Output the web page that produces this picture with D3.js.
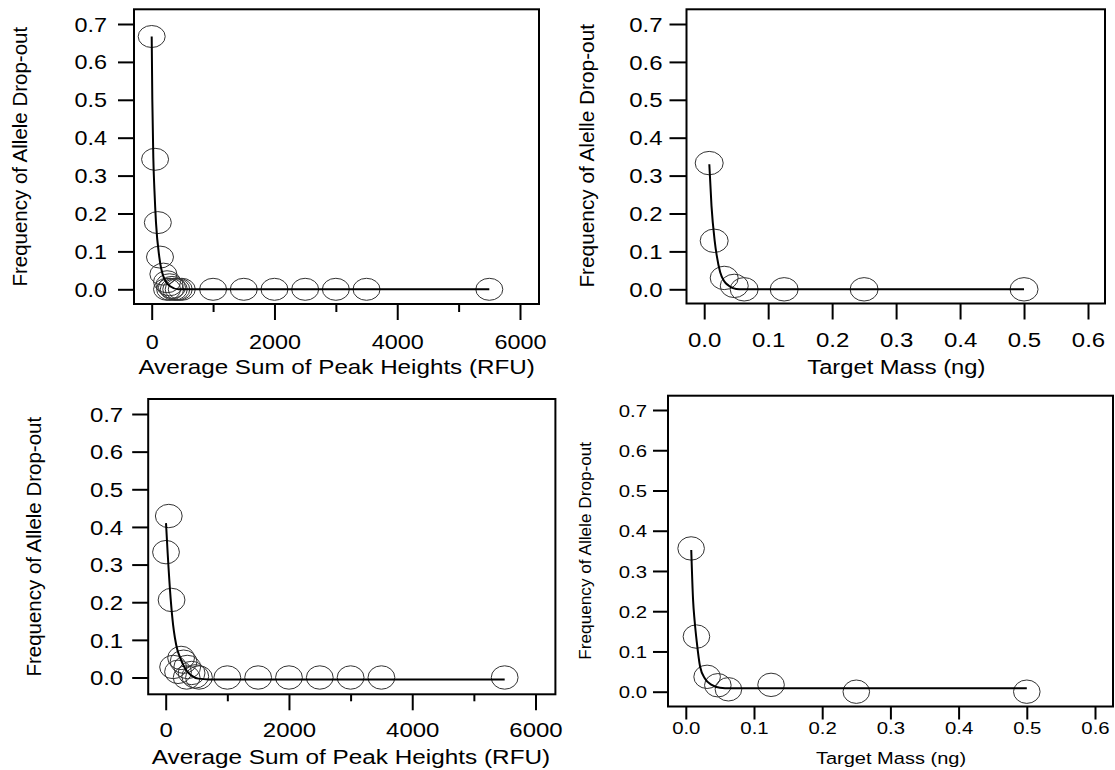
<!DOCTYPE html>
<html>
<head>
<meta charset="utf-8">
<script src="https://cdn.jsdelivr.net/npm/d3@7"></script>
<style>
body { margin: 0; background: #fff; }
svg { display: block; }
</style>
</head>
<body>
<div id="chart"></div>
<script>
// tick values
const freqTicks = [0, 0.1, 0.2, 0.3, 0.4, 0.5, 0.6, 0.7];
const rfuTicks = [0, 2000, 4000, 6000];
const rfuMinorTicks = [1000, 3000, 5000];
const massTicks = [0, 0.1, 0.2, 0.3, 0.4, 0.5, 0.6];

// top left: drop-out vs average sum of peak heights
const rfuA = [0, 55, 100, 135, 190, 250, 290, 330, 250, 300, 360, 400, 440, 490, 1000, 1500, 2000, 2500, 3000, 3500, 5500];
const dropA = [0.667, 0.343, 0.176, 0.085, 0.04, 0.02, 0.012, 0.005, 0, 0, 0, 0, 0, 0, 0, 0, 0, 0, 0, 0, 0];
const fitRfuA = [0, 10, 27, 45, 70, 124, 190, 300, 435, 5500];
const fitDropA = [0.667, 0.5, 0.343, 0.26, 0.176, 0.085, 0.034, 0.008, 0, 0];

// top right: drop-out vs target mass
const massB = [0.0078, 0.0156, 0.03125, 0.047, 0.0625, 0.125, 0.25, 0.5];
const dropB = [0.333, 0.128, 0.03, 0.009, 0, 0, 0, 0];
const fitMassB = [0.008, 0.0114, 0.0164, 0.0195, 0.025, 0.031, 0.038, 0.045, 0.055, 0.5];
const fitDropB = [0.33, 0.22, 0.128, 0.09, 0.045, 0.022, 0.01, 0.003, 0, 0];

// bottom left
const rfuC = [5, 50, 95, 120, 200, 250, 290, 350, 420, 340, 480, 540, 1000, 1500, 2000, 2500, 3000, 3500, 5500];
const dropC = [0.333, 0.429, 0.206, 0.028, 0.015, 0.052, 0.042, 0.028, 0.012, 0, 0.003, 0, 0, 0, 0, 0, 0, 0, 0];
const fitRfuC = [5, 32, 80, 120, 150, 190, 230, 280, 340, 420, 530, 700, 5500];
const fitDropC = [0.41, 0.33, 0.21, 0.14, 0.105, 0.073, 0.055, 0.035, 0.018, 0.005, -0.003, -0.005, -0.005];

// bottom right
const massD = [0.0078, 0.0156, 0.03125, 0.047, 0.0625, 0.125, 0.25, 0.5];
const dropD = [0.356, 0.137, 0.037, 0.016, 0.006, 0.017, 0, 0];
const fitMassD = [0.008, 0.0106, 0.013, 0.016, 0.021, 0.028, 0.038, 0.05, 0.065, 0.5];
const fitDropD = [0.352, 0.23, 0.175, 0.125, 0.062, 0.033, 0.017, 0.01, 0.0085, 0.0085];

const FONT = "'Liberation Sans', Arial, sans-serif";
const fmtRfu = d3.format("d");
const fmtOne = d3.format(".1f");

const svg = d3.select("#chart").append("svg")
	.attr("width", 1115)
	.attr("height", 770)
	.attr("font-family", FONT);

// layout of each panel, in page pixels
const panels = [
	{
		xs: rfuA, ys: dropA, fx: fitRfuA, fy: fitDropA,
		xDomain: [0, 6000], xRange: [151.7, 520], yRange: [289.3, 24],
		box: [134, 539, 9.3, 304], xTicks: rfuTicks, minor: rfuMinorTicks, fmt: fmtRfu,
		yTick: 16, yGap: 11, xTick: 16, minorTick: 8, xLabelY: 342,
		tickFont: 20, titleFont: 20.7, yTitleFont: 20.5, sx: 1.17,
		xTitle: "Average Sum of Peak Heights (RFU)", xTitlePos: [336.6, 367],
		yTitle: "Frequency of Allele Drop-out", yTitlePos: [19.6, 156.7],
		rx: 13.5, ry: 11
	},
	{
		xs: massB, ys: dropB, fx: fitMassB, fy: fitDropB,
		xDomain: [0, 0.6], xRange: [704.2, 1088], yRange: [289.3, 24],
		box: [686.5, 1105, 9.3, 303.5], xTicks: massTicks, minor: [], fmt: fmtOne,
		yTick: 17, yGap: 7, xTick: 16, minorTick: 0, xLabelY: 340,
		tickFont: 20.5, titleFont: 20.3, yTitleFont: 20.8, sx: 1.17,
		xTitle: "Target Mass (ng)", xTitlePos: [896.3, 367],
		yTitle: "Frequency of Alelle Drop-out", yTitlePos: [586.5, 155.8],
		rx: 14, ry: 11.7
	},
	{
		xs: rfuC, ys: dropC, fx: fitRfuC, fy: fitDropC,
		xDomain: [0, 6000], xRange: [165.7, 535.5], yRange: [677.5, 414],
		box: [148.2, 555.4, 399, 694.3], xTicks: rfuTicks, minor: rfuMinorTicks, fmt: fmtRfu,
		yTick: 16, yGap: 9, xTick: 16, minorTick: 7, xLabelY: 730,
		tickFont: 20.5, titleFont: 20.8, yTitleFont: 20.5, sx: 1.17,
		xTitle: "Average Sum of Peak Heights (RFU)", xTitlePos: [351, 756.7],
		yTitle: "Frequency of Allele Drop-out", yTitlePos: [34, 546.7],
		rx: 13.4, ry: 11.7
	},
	{
		xs: massD, ys: dropD, fx: fitMassD, fy: fitDropD,
		xDomain: [0, 0.6], xRange: [685.8, 1095], yRange: [691.7, 410],
		box: [668, 1113, 395.7, 706.5], xTicks: massTicks, minor: [], fmt: fmtOne,
		yTick: 15, yGap: 6, xTick: 13, minorTick: 0, xLabelY: 728.3,
		tickFont: 17.4, titleFont: 17.1, yTitleFont: 17.2, sx: 1.17,
		xTitle: "Target Mass (ng)", xTitlePos: [891, 758.3],
		yTitle: "Frequency of Allele Drop-out", yTitlePos: [584.8, 550.8],
		rx: 13.3, ry: 11.7
	}
];

panels.forEach(function (p) {
	let g = svg.append("g");

	// scales
	let x = d3.scaleLinear().domain(p.xDomain).range(p.xRange);
	let y = d3.scaleLinear().domain([0, 0.7]).range(p.yRange);

	// y axis (ticks out of the box, labels left)
	let gy = g.append("g")
		.attr("transform", "translate(" + p.box[0] + ",0)")
		.call(d3.axisLeft(y).tickValues(freqTicks).tickFormat(fmtOne).tickSize(p.yTick).tickSizeOuter(0))
		.attr("font-family", FONT);
	gy.select(".domain").remove();
	gy.selectAll("line").attr("stroke", "#000").attr("stroke-width", 2);
	gy.selectAll("text")
		.attr("fill", "#000")
		.attr("font-size", p.tickFont)
		.attr("x", -(p.yTick + p.yGap) / p.sx)
		.attr("dy", "0.35em")
		.attr("transform", "scale(" + p.sx + ",1)");

	// x axis, labelled ticks
	let gx = g.append("g")
		.attr("transform", "translate(0," + p.box[3] + ")")
		.call(d3.axisBottom(x).tickValues(p.xTicks).tickFormat(p.fmt).tickSize(p.xTick).tickSizeOuter(0))
		.attr("font-family", FONT);
	gx.select(".domain").remove();
	gx.selectAll("line").attr("stroke", "#000").attr("stroke-width", 2);
	gx.selectAll("text")
		.attr("fill", "#000")
		.attr("font-size", p.tickFont)
		.attr("y", p.xLabelY - p.box[3])
		.attr("dy", "0.35em")
		.attr("transform", "scale(" + p.sx + ",1)");

	// x axis, unlabelled short ticks
	if (p.minor.length) {
		let gm = g.append("g")
			.attr("transform", "translate(0," + p.box[3] + ")")
			.call(d3.axisBottom(x).tickValues(p.minor).tickFormat("").tickSize(p.minorTick).tickSizeOuter(0));
		gm.select(".domain").remove();
		gm.selectAll("line").attr("stroke", "#000").attr("stroke-width", 2);
	}

	// plot box
	g.append("rect")
		.attr("x", p.box[0])
		.attr("y", p.box[2])
		.attr("width", p.box[1] - p.box[0])
		.attr("height", p.box[3] - p.box[2])
		.attr("fill", "none")
		.attr("stroke", "#000")
		.attr("stroke-width", 2);

	// observed points (open symbols)
	g.selectAll("ellipse")
		.data(p.xs.map((v, i) => ({x: v, y: p.ys[i]})))
		.enter().append("ellipse")
		.attr("cx", d => x(d.x))
		.attr("cy", d => y(d.y))
		.attr("rx", p.rx)
		.attr("ry", p.ry)
		.attr("fill", "none")
		.attr("stroke", "#333")
		.attr("stroke-width", 1);

	// fitted curve
	let fit = p.fx.map((v, i) => ({x: v, y: p.fy[i]}));
	g.append("path")
		.datum(fit)
		.attr("fill", "none")
		.attr("stroke", "#000")
		.attr("stroke-width", 2)
		.attr("d", d3.line().x(d => x(d.x)).y(d => y(d.y)).curve(d3.curveMonotoneX));

	// axis titles
	g.append("text")
		.attr("transform", "translate(" + p.xTitlePos[0] + "," + p.xTitlePos[1] + ") scale(" + p.sx + ",1)")
		.attr("text-anchor", "middle")
		.attr("dy", "0.35em")
		.attr("font-size", p.titleFont)
		.attr("fill", "#000")
		.text(p.xTitle);

	g.append("text")
		.attr("transform", "translate(" + p.yTitlePos[0] + "," + p.yTitlePos[1] + ") rotate(-90)")
		.attr("text-anchor", "middle")
		.attr("dy", "0.35em")
		.attr("font-size", p.yTitleFont)
		.attr("fill", "#000")
		.text(p.yTitle);
});
</script>
</body>
</html>
